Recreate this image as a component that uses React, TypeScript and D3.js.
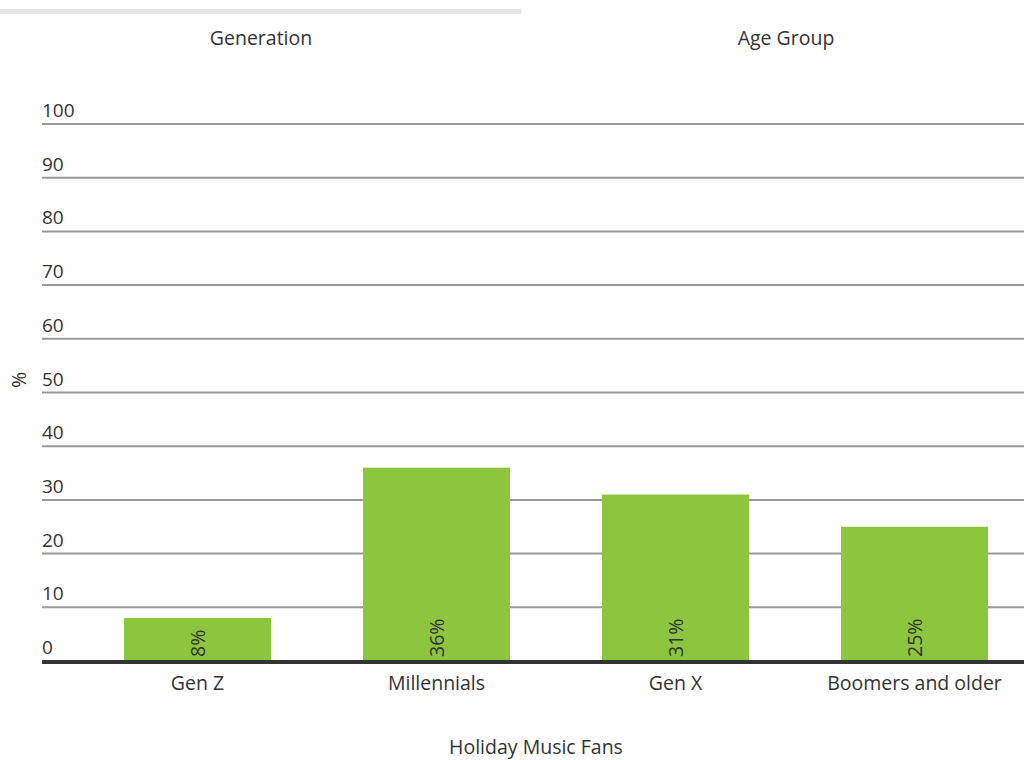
import React from "react";
import * as d3 from "d3";

const categories = ["Gen Z", "Millennials", "Gen X", "Boomers and older"];
const values = [8, 36, 31, 25];
const yTicks = [0, 10, 20, 30, 40, 50, 60, 70, 80, 90, 100];
const tabs = ["Generation", "Age Group"];
const xTitle = "Holiday Music Fans";
const yTitle = "%";

const W = 1024;
const H = 760;
const FONT = "'Open Sans', sans-serif";
const TEXT = "#333";
const FS = 19.5;

export default function App() {
  const y = d3.scaleLinear().domain([0, 100]).range([661, 124]);
  const x = d3
    .scaleBand<string>()
    .domain(categories)
    .range([78, 1034])
    .paddingInner(0.385)
    .paddingOuter(0.1925);

  return (
    <svg
      width={W}
      height={H}
      style={{ position: "absolute", left: 0, top: 0, background: "#fff" }}
      fontFamily={FONT}
    >
      {/* tab strip */}
      <rect x={0} y={9} width={521} height={5} fill="#e5e5e5" />
      {tabs.map((t, i) => (
        <text
          key={t}
          x={i === 0 ? 261 : 786}
          y={45}
          textAnchor="middle"
          fontSize={FS}
          fill={TEXT}
        >
          {t}
        </text>
      ))}

      {/* grid lines and tick labels */}
      {yTicks.map((t) => (
        <g key={t}>
          {t !== 0 && (
            <line x1={42} x2={W} y1={y(t)} y2={y(t)} stroke="#999" strokeWidth={2} />
          )}
          <text x={42} y={y(t) - 7} fontSize={19} fill={TEXT}>
            {t}
          </text>
        </g>
      ))}

      {/* bars */}
      {categories.map((c, i) => (
        <g key={c}>
          <rect
            x={x(c)}
            y={y(values[i])}
            width={x.bandwidth()}
            height={y(0) - y(values[i])}
            fill="#8cc63f"
          />
          <text
            transform={`translate(${(x(c) as number) + x.bandwidth() / 2 + 7},${y(0) - 4}) rotate(-90)`}
            fontSize={FS}
            fill={TEXT}
          >
            {values[i]}%
          </text>
          <text
            x={(x(c) as number) + x.bandwidth() / 2}
            y={690}
            textAnchor="middle"
            fontSize={FS}
            fill={TEXT}
          >
            {c}
          </text>
        </g>
      ))}

      {/* baseline */}
      <line x1={42} x2={W} y1={y(0) + 1} y2={y(0) + 1} stroke="#333" strokeWidth={4} />

      {/* axis titles */}
      <text x={536} y={754} textAnchor="middle" fontSize={FS} fill={TEXT}>
        {xTitle}
      </text>
      <text
        transform={`translate(26,380) rotate(-90)`}
        textAnchor="middle"
        fontSize={FS}
        fill={TEXT}
      >
        {yTitle}
      </text>
    </svg>
  );
}
